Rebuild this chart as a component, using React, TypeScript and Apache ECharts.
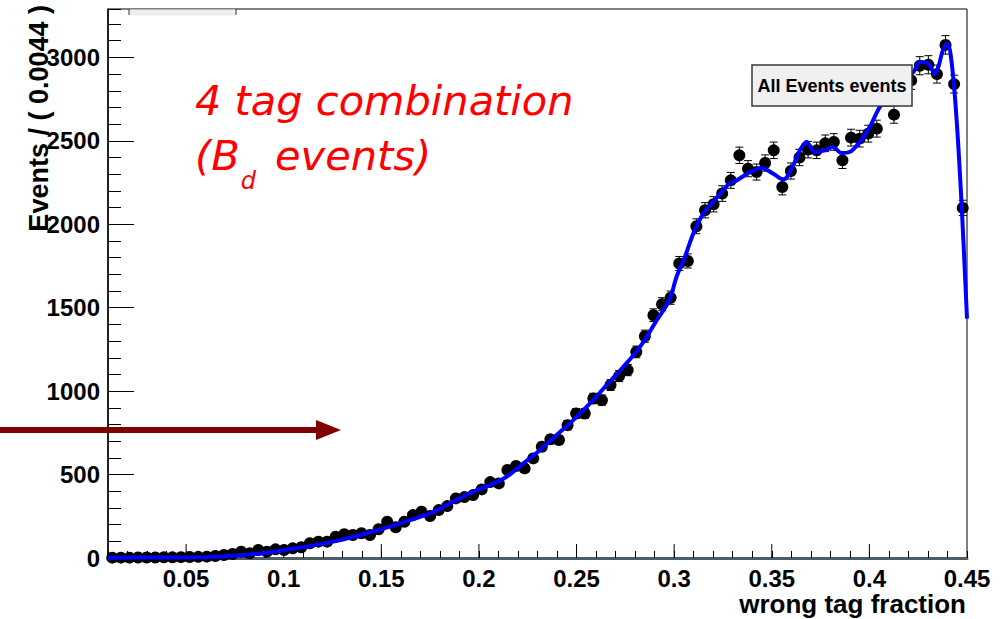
import React, { useEffect, useRef } from 'react';
import * as echarts from 'echarts';

const X_MIN = 0.01;
const X_MAX = 0.45;
const BIN_WIDTH = 0.0044;
const Y_MAX = 3290;

// Events per bin (100 bins of width 0.0044 from 0.01 to 0.45)
const counts = [
  2, 2, 2, 3, 3, 3, 4, 4, 5, 6,
  7, 8, 12, 18, 24, 38, 28, 48, 38, 52,
  48, 58, 64, 88, 98, 98, 128, 142, 138, 148,
  138, 172, 217, 184, 217, 257, 277, 251, 287, 311,
  357, 365, 377, 411, 455, 447, 527, 551, 537, 597,
  667, 711, 707, 796, 866, 866, 956, 946, 1036, 1090,
  1126, 1235, 1329, 1455, 1521, 1560, 1765, 1780, 1988, 2084,
  2120, 2184, 2263, 2413, 2333, 2313, 2367, 2443, 2223, 2319,
  2400, 2447, 2443, 2485, 2493, 2383, 2519, 2513, 2543, 2573,
  2760, 2657, 2790, 2862, 2950, 2956, 2900, 3075, 2840, 2098,
];

// Fitted (smooth) curve, sampled along the x axis
const fitX = [
  0.01, 0.03, 0.0571, 0.0742, 0.0913, 0.1084, 0.1254, 0.1425, 0.1596, 0.1767,
  0.188, 0.1971, 0.2057, 0.2142, 0.2227, 0.2313, 0.2398, 0.2483, 0.2569, 0.2654,
  0.274, 0.2825, 0.2911, 0.2975, 0.3012, 0.3055, 0.3098, 0.3149, 0.32, 0.3243,
  0.3286, 0.332, 0.3389, 0.3448, 0.3508, 0.3559, 0.361, 0.3644, 0.3678, 0.3721,
  0.3771, 0.3813, 0.3857, 0.3899, 0.395, 0.4002, 0.4054, 0.414, 0.4225, 0.4259,
  0.4302, 0.4336, 0.4353, 0.4379, 0.4399, 0.4422, 0.4447, 0.4473, 0.45,
];
const fitY = [
  2, 3, 4, 14, 32, 62, 98, 148, 208, 277,
  345, 397, 437, 487, 567, 647, 737, 826, 926, 1036,
  1146, 1265, 1425, 1545, 1684, 1804, 1944, 2064, 2134, 2193,
  2247, 2263, 2313, 2337, 2303, 2269, 2353, 2443, 2493, 2433,
  2443, 2463, 2427, 2433, 2493, 2583, 2703, 2830, 2912, 2972,
  2962, 2902, 2942, 3052, 3082, 2962, 2623, 2104, 1435,
];

const xMajorTicks = [0.05, 0.1, 0.15, 0.2, 0.25, 0.3, 0.35, 0.4];

export default function App() {
  const ref = useRef<HTMLDivElement>(null);

  useEffect(() => {
    const chart = echarts.init(ref.current as HTMLDivElement, null, { renderer: 'svg' });
    const binCenters = counts.map((_, i) => +(X_MIN + (i + 0.5) * BIN_WIDTH).toFixed(5));
    const points = counts.map((c, i) => [binCenters[i], c]);
    const errData = counts.map((c, i) => [binCenters[i], c, Math.sqrt(c)]);
    const fit = fitX.map((x, i) => [x, fitY[i]]);

    const labelFont = {
      fontFamily: '"Liberation Sans", Arial, sans-serif',
      fontWeight: 'bold' as const,
      fontSize: 24,
      color: '#000',
    };
    const redFont = '"DejaVu Sans", Verdana, sans-serif';

    chart.setOption({
      animation: false,
      grid: {
        left: 108, right: 39, top: 9, bottom: 61,
        show: true, borderColor: '#000', borderWidth: 1, backgroundColor: 'transparent',
      },
      xAxis: [
        {
          type: 'value', min: X_MIN, max: X_MAX, interval: 0.01,
          axisLine: { show: true, onZero: false, lineStyle: { color: '#4d5c66', width: 3 } },
          axisTick: { show: true, inside: true, length: 7, lineStyle: { color: '#000', width: 1 } },
          axisLabel: {
            ...labelFont,
            margin: 8,
            formatter: (v: number) => {
              const k = Math.round(v * 100);
              return k % 5 === 0 ? String(k / 100) : '';
            },
          },
          splitLine: { show: false },
        },
      ],
      yAxis: [
        {
          type: 'value', min: 0, max: Y_MAX, interval: 500, position: 'left',
          axisLine: { show: true, lineStyle: { color: '#000', width: 1.5 } },
          axisTick: { show: true, inside: true, length: 26, lineStyle: { color: '#000', width: 1 } },
          axisLabel: {
            ...labelFont, margin: 8, showMaxLabel: false, padding: [6, 0, 0, 0],
            formatter: (v: number) => String(Math.round(v)),
          },
          splitLine: { show: false },
        },
        {
          type: 'value', min: 0, max: Y_MAX, interval: 100, position: 'left', offset: 0,
          axisLine: { show: false },
          axisTick: { show: true, inside: true, length: 13, lineStyle: { color: '#000', width: 1 } },
          axisLabel: { show: false },
          splitLine: { show: false },
        },
      ],
      series: [
        {
          type: 'custom',
          name: 'majorTicks',
          xAxisIndex: 0, yAxisIndex: 0, z: 1, silent: true,
          data: xMajorTicks.map((v) => [v, 0]),
          encode: { x: 0, y: 1 },
          renderItem: (_p: any, api: any) => {
            const c = api.coord([api.value(0), 0]);
            return {
              type: 'line',
              shape: { x1: c[0], y1: c[1], x2: c[0], y2: c[1] - 14 },
              style: { stroke: '#000', lineWidth: 1 },
            };
          },
        },
        {
          type: 'custom',
          name: 'errors',
          xAxisIndex: 0, yAxisIndex: 0, z: 2, silent: true,
          data: errData,
          encode: { x: 0, y: 1 },
          renderItem: (_p: any, api: any) => {
            const x = api.value(0);
            const y = api.value(1);
            const e = api.value(2);
            const lo = api.coord([x, y - e]);
            const hi = api.coord([x, y + e]);
            const st = { stroke: '#000', lineWidth: 1 };
            return {
              type: 'group',
              children: [
                { type: 'line', shape: { x1: lo[0], y1: lo[1], x2: hi[0], y2: hi[1] }, style: st },
                { type: 'line', shape: { x1: hi[0] - 4, y1: hi[1], x2: hi[0] + 4, y2: hi[1] }, style: st },
                { type: 'line', shape: { x1: lo[0] - 4, y1: lo[1], x2: lo[0] + 4, y2: lo[1] }, style: st },
              ],
            };
          },
        },
        {
          type: 'scatter',
          name: 'data',
          data: points,
          symbol: 'circle',
          symbolSize: 12,
          itemStyle: { color: '#000', opacity: 1 },
          z: 3,
        },
        {
          type: 'line',
          name: 'fit',
          data: fit,
          smooth: 0.35,
          showSymbol: false,
          lineStyle: { color: '#0000ff', width: 4 },
          z: 4,
        },
      ],
      graphic: [
        // partly hidden title box at the top
        { type: 'rect', z: 100, shape: { x: 129, y: 9.5, width: 107, height: 6 }, style: { fill: '#eeeeee' } },
        { type: 'line', z: 100, shape: { x1: 129, y1: 9, x2: 129, y2: 15 }, style: { stroke: '#333', lineWidth: 1 } },
        { type: 'line', z: 100, shape: { x1: 236, y1: 9, x2: 236, y2: 15 }, style: { stroke: '#333', lineWidth: 1 } },
        // arrow
        { type: 'line', z: 100, shape: { x1: 0, y1: 430, x2: 320, y2: 430 }, style: { stroke: '#800000', lineWidth: 6 } },
        { type: 'polygon', z: 100, shape: { points: [[316, 420], [341, 430], [316, 440]] }, style: { fill: '#800000' } },
        // red annotation
        {
          type: 'text', z: 100, x: 195, y: 100,
          style: {
            text: '4 tag combination',
            fontFamily: redFont, fontStyle: 'italic', fontSize: 41.5,
            fill: '#ff0000', align: 'left', verticalAlign: 'middle',
          },
        },
        {
          type: 'text', z: 100, x: 195, y: 135,
          style: {
            text: '{m|(B}{s|d}{m| events)}',
            align: 'left', verticalAlign: 'top',
            rich: {
              m: {
                fontFamily: redFont, fontStyle: 'italic', fontSize: 41.5,
                fill: '#ff0000', lineHeight: 42, verticalAlign: 'top',
              },
              s: {
                fontFamily: redFont, fontStyle: 'italic', fontSize: 24,
                fill: '#ff0000', lineHeight: 58, verticalAlign: 'bottom',
                padding: [0, 6, 0, 1],
              },
            },
          },
        },
        // legend box
        {
          type: 'rect', z: 100, shape: { x: 752, y: 65, width: 160, height: 41 },
          style: { fill: '#f0f0f0', stroke: '#3a3a3a', lineWidth: 1.5 },
        },
        {
          type: 'text', z: 101, x: 832, y: 86,
          style: {
            text: 'All Events events',
            fontFamily: '"Liberation Sans", Arial, sans-serif', fontWeight: 'bold', fontSize: 18,
            fill: '#000', align: 'center', verticalAlign: 'middle',
          },
        },
        // axis titles
        {
          type: 'text', z: 100, x: 39, y: 5, rotation: Math.PI / 2,
          style: {
            text: 'Events / ( 0.0044 )',
            fontFamily: '"Liberation Sans", Arial, sans-serif', fontWeight: 'bold', fontSize: 27,
            fill: '#000', align: 'right', verticalAlign: 'middle',
          },
        },
        {
          type: 'text', z: 100, x: 966, y: 604,
          style: {
            text: 'wrong tag fraction',
            fontFamily: '"Liberation Sans", Arial, sans-serif', fontWeight: 'bold', fontSize: 26,
            fill: '#000', align: 'right', verticalAlign: 'middle',
          },
        },
      ],
    });

    return () => {
      chart.dispose();
    };
  }, []);

  return (
    <div
      ref={ref}
      style={{ position: 'absolute', left: 0, top: 0, width: 1006, height: 619, background: '#fff' }}
    />
  );
}
